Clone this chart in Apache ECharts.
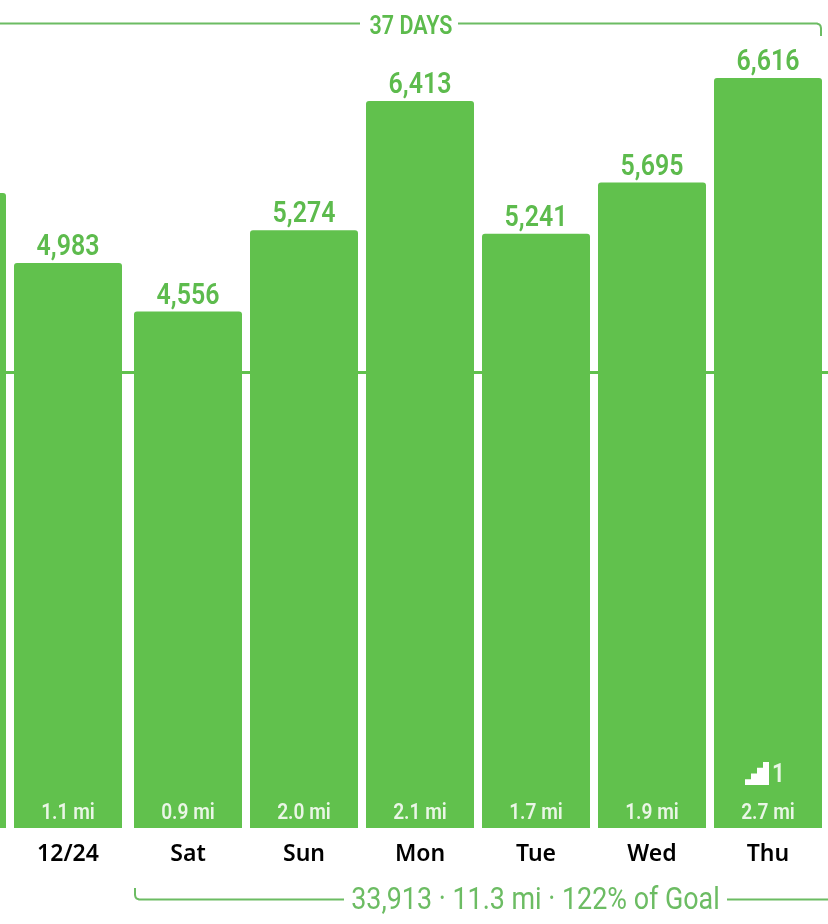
<!DOCTYPE html>
<html><head><meta charset="utf-8">
<style>html,body{margin:0;padding:0;background:#fff}#c{width:828px;height:924px}</style>
<script src="https://cdn.jsdelivr.net/npm/echarts@6/dist/echarts.min.js"></script>
</head><body><div id="c"></div>
<script>
const categories = ['', '12/24', 'Sat', 'Sun', 'Mon', 'Tue', 'Wed', 'Thu'];
const slots = [-1, 0, 1.0345, 2.0345, 3.0345, 4.0345, 5.0345, 6.0345];
const steps = [5602, 4983, 4556, 5274, 6413, 5241, 5695, 6616];
const miles = ['', '1.1', '0.9', '2.0', '2.1', '1.7', '1.9', '2.7'];
const flights = [0, 0, 0, 0, 0, 0, 0, 1];
const goal = 4022;
const topNote = '37 DAYS';
const bottomNote = '33,913 · 11.3 mi · 122% of Goal';

const GREEN = '#61C14D', TXT = '#5DBB4D', LIGHT = '#6CBC63', PALE = '#EAF6E6';
const stair = 'path://M0 3H1V2H2V1H3V0H4V4H0Z';
const pts = slots.map((s, i) => [s, steps[i]]);

function textSeries(getText, opts) {
  return {
    type:'custom', z:opts.z || 5, silent:true, clip:false,
    coordinateSystem:'cartesian2d',
    data:pts,
    renderItem(params, api) {
      const t = getText(params.dataIndex);
      if (!t) return null;
      const p = api.coord([api.value(0), opts.atTop ? api.value(1) : 0]);
      return {type:'text', x:p[0] + (opts.dx || 0), y:p[1] + opts.dy, scaleX:opts.sx || 1,
        style:{text:t, font:opts.font, fill:opts.fill, align:'center', verticalAlign:'middle'}};
    }
  };
}

const chart = echarts.init(document.getElementById('c'), null, {renderer:'canvas'});
chart.setOption({
  animation:false,
  backgroundColor:'#fff',
  grid:{left:0, right:0, top:0, bottom:96, containLabel:false},
  xAxis:{type:'value', min:-68/116, max:760/116, show:false},
  yAxis:{type:'value', min:0, max:7304, show:false},
  series:[
    {type:'bar', barWidth:108, z:2, clip:true,
     data:pts,
     itemStyle:{color:GREEN, borderRadius:[3,3,0,0]},
     markLine:{silent:true, symbol:'none', z:1, label:{show:false},
       lineStyle:{color:GREEN, width:3, type:'solid'}, data:[{yAxis:goal}]}
    },
    textSeries(i => i === 0 ? '' : steps[i].toLocaleString('en-US'),
      {atTop:true, dy:-15, sx:0.86, font:'600 29px Roboto', fill:TXT}),
    textSeries(i => miles[i] ? miles[i] + ' mi' : '',
      {dy:-15, sx:0.87, font:'600 22px Roboto', fill:PALE}),
    textSeries(i => categories[i],
      {dy:26, font:'600 23px "Noto Sans"', fill:'#000'}),
    textSeries(i => flights[i] ? String(flights[i]) : '',
      {dx:10.5, dy:-52.5, sx:0.9, font:'600 25px Roboto', fill:PALE}),
    {type:'scatter', z:6, silent:true, symbol:stair, symbolSize:[24,23], symbolOffset:[-11,-54.5],
     itemStyle:{color:'#fff', opacity:1},
     data:pts.filter((p,i)=>flights[i]).map(p=>[p[0],0])}
  ],
  graphic:[
    {type:'polyline', shape:{points:[[0,23.5],[360,23.5]]}, style:{stroke:LIGHT,lineWidth:2,fill:null}},
    {type:'polyline', shape:{points:[[458,23.5],[817,23.5],[819.5,24.5],[820.5,26],[821,28],[821,36]]}, style:{stroke:LIGHT,lineWidth:2,fill:null}},
    {type:'text', x:411, y:27.5, scaleX:0.86, style:{text:topNote, fill:TXT, font:'600 25px Roboto', align:'center', verticalAlign:'middle'}},
    {type:'polyline', shape:{points:[[135,888],[135,895],[135.5,897],[136.5,898.5],[139,899.5],[344,899.5]]}, style:{stroke:LIGHT,lineWidth:2,fill:null}},
    {type:'polyline', shape:{points:[[727,899.5],[828,899.5]]}, style:{stroke:LIGHT,lineWidth:2,fill:null}},
    {type:'text', x:535.5, y:901, scaleX:0.84, style:{text:bottomNote, fill:LIGHT, font:'400 32px Roboto', align:'center', verticalAlign:'middle'}}
  ]
});
</script></body></html>
